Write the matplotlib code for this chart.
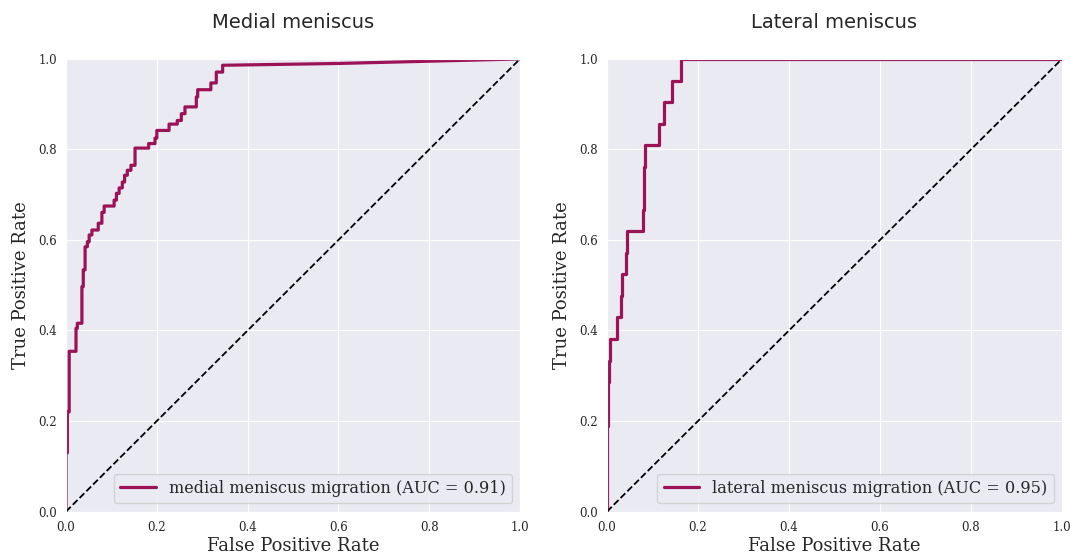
import numpy as np
import matplotlib
matplotlib.use('Agg')
import matplotlib.pyplot as plt
import seaborn as sns

# ROC corner points
medial_fpr = [0.0, 0.0, 0.003, 0.003, 0.007, 0.007, 0.022, 0.022, 0.025, 0.025,
              0.035, 0.035, 0.038, 0.038, 0.042, 0.042, 0.047, 0.047, 0.051, 0.051,
              0.057, 0.057, 0.071, 0.071, 0.079, 0.079, 0.084, 0.084, 0.106, 0.106,
              0.111, 0.111, 0.117, 0.117, 0.124, 0.124, 0.129, 0.129, 0.135, 0.135,
              0.143, 0.143, 0.152, 0.152, 0.182, 0.182, 0.196, 0.196, 0.200, 0.200,
              0.227, 0.227, 0.245, 0.245, 0.254, 0.254, 0.262, 0.262, 0.287, 0.287,
              0.290, 0.290, 0.319, 0.319, 0.331, 0.331, 0.345, 0.345, 0.60, 1.0]
medial_tpr = [0.0, 0.13, 0.13, 0.22, 0.22, 0.354, 0.354, 0.405, 0.405, 0.416,
              0.416, 0.497, 0.497, 0.534, 0.534, 0.585, 0.585, 0.596, 0.596, 0.611,
              0.611, 0.622, 0.622, 0.637, 0.637, 0.661, 0.661, 0.675, 0.675, 0.688,
              0.688, 0.703, 0.703, 0.715, 0.715, 0.728, 0.728, 0.743, 0.743, 0.754,
              0.754, 0.765, 0.765, 0.803, 0.803, 0.813, 0.813, 0.825, 0.825, 0.842,
              0.842, 0.856, 0.856, 0.864, 0.864, 0.879, 0.879, 0.894, 0.894, 0.916,
              0.916, 0.932, 0.932, 0.947, 0.947, 0.971, 0.971, 0.986, 0.990, 1.0]

lateral_fpr = [0.0, 0.0, 0.002, 0.002, 0.004, 0.004, 0.007, 0.007, 0.023, 0.023,
               0.030, 0.030, 0.034, 0.034, 0.041, 0.041, 0.044, 0.044, 0.079, 0.079,
               0.081, 0.081, 0.084, 0.084, 0.114, 0.114, 0.125, 0.125, 0.143, 0.143,
               0.162, 0.162, 1.0]
lateral_tpr = [0.0, 0.190, 0.190, 0.286, 0.286, 0.333, 0.333, 0.381, 0.381, 0.429,
               0.429, 0.476, 0.476, 0.524, 0.524, 0.571, 0.571, 0.619, 0.619, 0.667,
               0.667, 0.762, 0.762, 0.810, 0.810, 0.857, 0.857, 0.905, 0.905, 0.952,
               0.952, 1.0, 1.0]

titles = ['Medial meniscus', 'Lateral meniscus']
labels = ['medial meniscus migration (AUC = 0.91)',
          'lateral meniscus migration (AUC = 0.95)']
ticks = ['0.0', '0.2', '0.4', '0.6', '0.8', '1.0']

sns.set_style('darkgrid')
curve_color = '#9c1257'

fig = plt.figure(figsize=(10.7, 5.56), dpi=100)
ax1 = fig.add_axes([0.0617, 0.080, 0.4243, 0.814])
ax2 = fig.add_axes([0.5673, 0.080, 0.4252, 0.814])

curves = [(medial_fpr, medial_tpr), (lateral_fpr, lateral_tpr)]
for ax, (fpr, tpr), title, label in zip([ax1, ax2], curves, titles, labels):
    ax.plot(fpr, tpr, color=curve_color, lw=2.3, label=label)
    ax.plot([0, 1], [0, 1], color='black', lw=1.3, linestyle='--')
    ax.set_xlim(0, 1)
    ax.set_ylim(0, 1)
    ax.set_xticks(np.arange(0, 1.01, 0.2))
    ax.set_yticks(np.arange(0, 1.01, 0.2))
    ax.set_xticklabels(ticks, family='DejaVu Serif', fontsize=8.5)
    ax.set_yticklabels(ticks, family='DejaVu Serif', fontsize=8.5)
    ax.tick_params(pad=3)
    ax.set_xlabel('False Positive Rate', family='DejaVu Serif', fontsize=13, labelpad=2.5)
    ax.set_ylabel('True Positive Rate', family='DejaVu Serif', fontsize=13, labelpad=6)
    ax.set_title(title, family='DejaVu Sans', fontsize=14, pad=22)
    ax.legend(loc='lower right', handlelength=2.2, prop={'family': 'DejaVu Serif', 'size': 11.6})

fig.savefig('out.png', dpi=100)
